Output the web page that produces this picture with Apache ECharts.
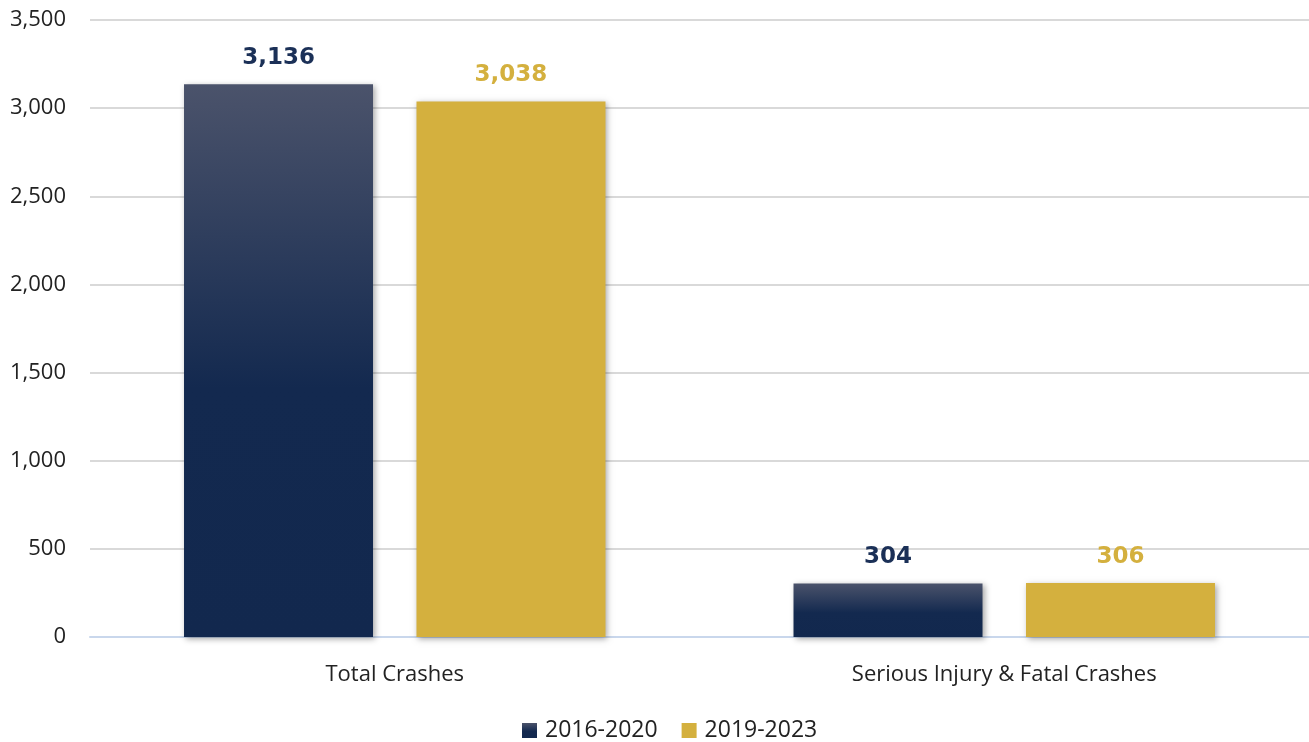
<!DOCTYPE html>
<html>
<head>
<meta charset="utf-8">
<script src="https://cdn.jsdelivr.net/npm/echarts@6/dist/echarts.min.js"></script>
<style>html,body{margin:0;padding:0;background:#fff}#c{width:1309px;height:742px}</style>
</head>
<body>
<div id="c"></div>
<script>
const categories = ['Total Crashes', 'Serious Injury & Fatal Crashes'];
const seriesNames = ['2016-2020', '2019-2023'];
const values2016 = [3136, 304];
const values2019 = [3038, 306];

const chart = echarts.init(document.getElementById('c'));
const navyGrad = new echarts.graphic.LinearGradient(0, 0, 0, 1, [
  {offset: 0, color: '#4b536b'},
  {offset: 0.55, color: '#13294f'},
  {offset: 1, color: '#12284e'}
]);
const labelFont = {fontFamily: 'DejaVu Sans', fontWeight: 'bold', fontSize: 23};
chart.setOption({
  animation: false,
  grid: {left: 90, right: 0, top: 20, bottom: 105, containLabel: false},
  legend: {
    top: 714, left: 517, itemWidth: 15, itemHeight: 15, itemGap: 24,
    icon: 'rect',
    textStyle: {fontFamily: 'Open Sans', fontSize: 23, color: '#222', padding: [0, 0, 0, 3]},
    data: [{name: seriesNames[0], itemStyle: {color: navyGrad}}, {name: seriesNames[1]}]
  },
  xAxis: {
    type: 'category', data: categories,
    axisLine: {lineStyle: {color: '#c9d7ec', width: 2}},
    axisTick: {show: false},
    axisLabel: {fontFamily: 'Open Sans', fontSize: 22, color: '#222', margin: 27}
  },
  yAxis: {
    type: 'value', min: 0, max: 3500, interval: 500,
    axisLine: {show: false}, axisTick: {show: false},
    splitLine: {lineStyle: {color: '#d9d9d9', width: 2}},
    axisLabel: {fontFamily: 'Open Sans', fontSize: 22, color: '#222', margin: 24,
      formatter: v => v.toLocaleString('en-US')}
  },
  series: [
    {
      name: seriesNames[0], type: 'bar', data: values2016,
      barWidth: 189, barGap: '23%',
      itemStyle: {color: navyGrad, shadowColor: 'rgba(0,0,0,0.35)', shadowBlur: 6, shadowOffsetX: 2, shadowOffsetY: 2},
      label: Object.assign({show: true, position: 'top', distance: 15, color: '#1b3057',
        formatter: p => p.value.toLocaleString('en-US')}, labelFont)
    },
    {
      name: seriesNames[1], type: 'bar', data: values2019,
      barWidth: 189,
      itemStyle: {color: '#d4b03e', shadowColor: 'rgba(0,0,0,0.35)', shadowBlur: 6, shadowOffsetX: 2, shadowOffsetY: 2},
      label: Object.assign({show: true, position: 'top', distance: 15, color: '#d4b03e',
        formatter: p => p.value.toLocaleString('en-US')}, labelFont)
    }
  ]
});
</script>
</body>
</html>
